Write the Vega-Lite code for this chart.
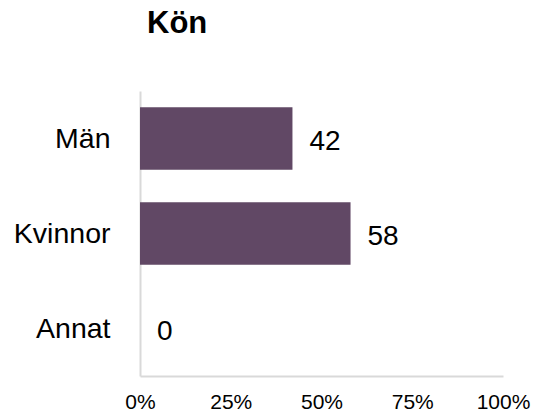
{
  "$schema": "https://vega.github.io/schema/vega-lite/v6.json",
  "autosize": "none",
  "width": 363,
  "height": 285,
  "padding": {"left": 140, "top": 91, "right": 31, "bottom": 37},
  "background": "white",
  "title": {
    "text": "Kön",
    "anchor": "start",
    "frame": "group",
    "font": "Liberation Sans",
    "fontSize": 31,
    "fontWeight": "bold",
    "color": "#000000",
    "dx": 7,
    "offset": 51
  },
  "data": {
    "values": [
      {"kategori": "Män", "andel": 42},
      {"kategori": "Kvinnor", "andel": 58},
      {"kategori": "Annat", "andel": 0}
    ]
  },
  "encoding": {
    "y": {
      "field": "kategori",
      "type": "nominal",
      "sort": ["Män", "Kvinnor", "Annat"],
      "scale": {"paddingInner": 0.34, "paddingOuter": 0.17},
      "axis": {
        "title": null,
        "ticks": false,
        "labelPadding": 30,
        "labelFont": "Liberation Sans",
        "labelFontSize": 28.5,
        "labelColor": "#000000",
        "domainColor": "#d9d9d9",
        "domainWidth": 2
      }
    },
    "x": {
      "field": "andel",
      "type": "quantitative",
      "scale": {"domain": [0, 100], "nice": false},
      "axis": {
        "title": null,
        "values": [0, 25, 50, 75, 100],
        "labelExpr": "datum.value + '%'",
        "ticks": false,
        "grid": false,
        "labelPadding": 15,
        "labelFont": "Liberation Sans",
        "labelFontSize": 21,
        "labelColor": "#000000",
        "labelFlush": false,
        "domainColor": "#d9d9d9",
        "domainWidth": 2
      }
    }
  },
  "layer": [
    {"mark": {"type": "bar", "color": "#614865"}},
    {
      "mark": {"type": "text", "align": "left", "baseline": "middle", "dx": 17, "dy": 3, "font": "Liberation Sans", "fontSize": 28, "color": "#000000"},
      "encoding": {"text": {"field": "andel", "type": "quantitative"}}
    }
  ],
  "config": {"view": {"stroke": null}}
}
